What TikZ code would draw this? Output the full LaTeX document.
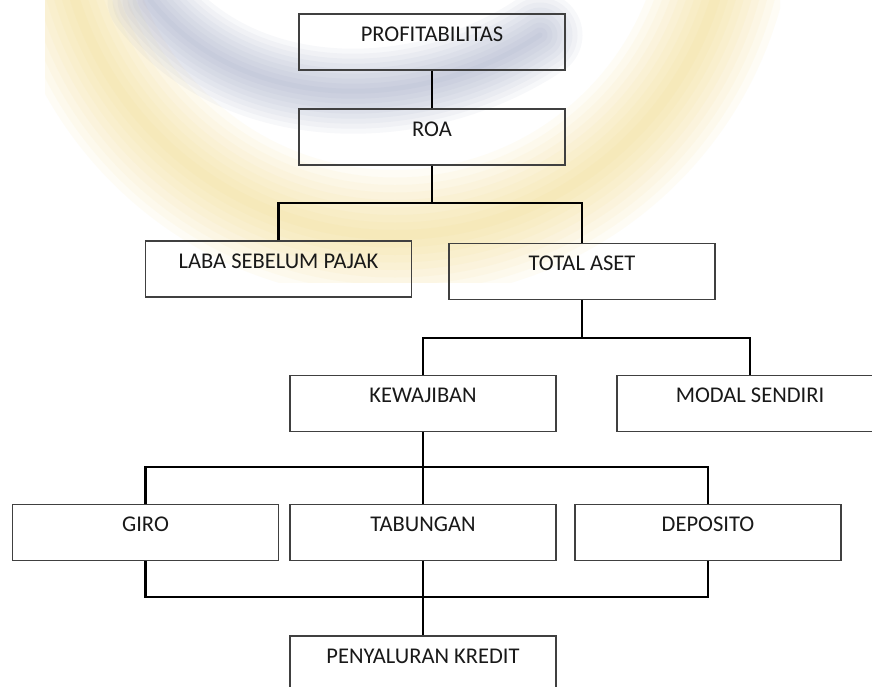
\documentclass[tikz,border=0pt]{standalone}
\usepackage{fontspec}
\setmainfont{Carlito}
\usetikzlibrary{positioning}
\definecolor{wmyellow}{RGB}{245,210,100}
\definecolor{wmblue}{RGB}{130,140,180}

\begin{document}
\begin{tikzpicture}[x=1pt,y=-1pt,
  box/.style={draw=black!75,line width=1.3pt,minimum width=266pt,inner sep=0pt,
    text height=27pt,text depth=29pt,text=black!90,font=\fontsize{22.5}{25}\selectfont},
  edge/.style={line width=2.8pt,black},
  glow/.style={line cap=round,opacity=0.06}]
\useasboundingbox (0,0) rectangle (872,686);
\clip (0,0) rectangle (872,686);
\fill[white] (0,0) rectangle (872,686);
\begin{scope}
  \clip (45,0) rectangle (780,282);
  \foreach \w in {130,115,...,10}
    \draw[glow,wmyellow,line width=\w pt] (395,-100) circle[radius=335pt];
  \foreach \w in {85,75,...,5}
    \draw[glow,wmblue,line width=\w pt] (150,0) .. controls (240,115) and (420,115) .. (540,35);
\end{scope}
\node[box] (prof) at (432,42) {PROFITABILITAS};
\node[box] (roa) at (432,137) {ROA};
\node[box] (laba) at (278.5,269) {LABA SEBELUM PAJAK};
\node[box] (total) at (582,271.5) {TOTAL ASET};
\node[box] (kew) at (423,403.5) {KEWAJIBAN};
\node[box] (modal) at (750,403.5) {MODAL SENDIRI};
\node[box] (giro) at (145.5,532.5) {GIRO};
\node[box] (tab) at (423,532.5) {TABUNGAN};
\node[box] (dep) at (708,532.5) {DEPOSITO};
\node[box] (kredit) at (423,664) {PENYALURAN KREDIT};
\coordinate (j1) at (432,203);
\coordinate (j2) at (582,338);
\coordinate (j3) at (423,467);
\coordinate (j4) at (423,597);
\draw[edge] (prof) -- (roa);
\draw[edge] (roa) -- (j1);
\draw[edge] (laba) |- (j1) -| (total);
\draw[edge] (total) -- (j2);
\draw[edge] (kew) |- (j2) -| (modal);
\draw[edge] (kew) -- (j3);
\draw[edge] (giro) |- (j3) -| (dep);
\draw[edge] (tab) -- (j3);
\draw[edge] (giro) |- (j4) -| (dep);
\draw[edge] (tab) -- (kredit);
\end{tikzpicture}
\end{document}
